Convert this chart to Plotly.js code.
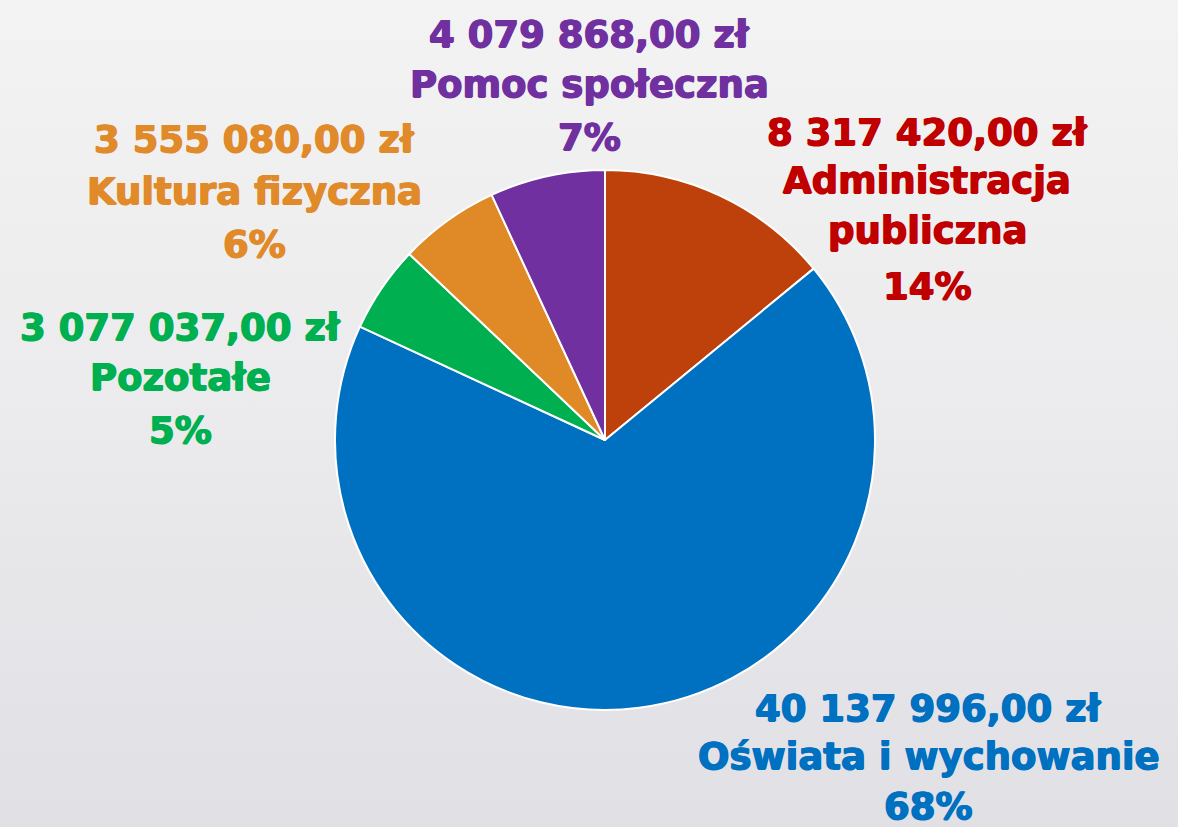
<!DOCTYPE html>
<html>
<head>
<meta charset="utf-8">
<script src="https://cdn.plot.ly/plotly-3.0.1.min.js"></script>
<style>
  html, body { margin: 0; padding: 0; }
  body { width: 1178px; height: 827px; background: linear-gradient(to bottom, #f3f3f3 0%, #ebebed 50%, #e0e0e5 100%); }
  #chart { width: 1178px; height: 827px; }
</style>
</head>
<body>
<div id="chart"></div>
<script>
// ---- data ----
const categories = ["Administracja publiczna", "Oświata i wychowanie", "Pozotałe", "Kultura fizyczna", "Pomoc społeczna"];
const amounts = [8317420.00, 40137996.00, 3077037.00, 3555080.00, 4079868.00];
const sliceColors = ["#be410b", "#0070c0", "#00b050", "#df8a26", "#7030a0"];
const labelColors = ["#c00000", "#0070c0", "#00b050", "#e08a2a", "#7030a0"];

// ---- label layout (pixel centre x, line baselines, name wrapping) ----
const W = 1178, H = 827;
const labelLayout = [
  {x: 927, baselines: [145, 193, 243, 299], wrap: true},
  {x: 929, baselines: [721, 769, 819], wrap: false},
  {x: 180, baselines: [340, 390, 443], wrap: false},
  {x: 254, baselines: [153, 204, 258], wrap: false},
  {x: 589, baselines: [48, 97, 150], wrap: false}
];
const FONT_SIZE = 37;

function fmtPLN(v) {
  const parts = v.toFixed(2).split(".");
  const intPart = parts[0].replace(/\B(?=(\d{3})+(?!\d))/g, " ");
  return intPart + "," + parts[1] + " zł";
}

const total = amounts.reduce((a, b) => a + b, 0);
const annotations = [];
categories.forEach((name, i) => {
  const cfg = labelLayout[i];
  const sp = name.indexOf(" ");
  const nameLines = cfg.wrap ? [name.slice(0, sp), name.slice(sp + 1)] : [name];
  const lines = [fmtPLN(amounts[i])].concat(nameLines, [Math.round(amounts[i] / total * 100) + "%"]);
  const c = labelColors[i];
  lines.forEach((t, k) => {
    annotations.push({
      xref: "paper", yref: "paper",
      x: cfg.x / W, y: 1 - (cfg.baselines[k] - 13) / H,
      xanchor: "center", yanchor: "middle",
      text: t, showarrow: false,
      font: {family: "DejaVu Sans", size: FONT_SIZE, color: c, weight: "bold",
             shadow: "0.7px 0 0 " + c + ", -0.7px 0 0 " + c + ", 0 0.5px 0 " + c}
    });
  });
});

const cx = 605, cy = 440, r = 270;
const trace = {
  type: "pie",
  labels: categories,
  values: amounts,
  sort: false,
  direction: "clockwise",
  rotation: 0,
  textinfo: "none",
  hoverinfo: "label+value+percent",
  marker: {colors: sliceColors, line: {color: "#ffffff", width: 2}},
  domain: {x: [(cx - r) / W, (cx + r) / W], y: [1 - (cy + r) / H, 1 - (cy - r) / H]}
};

const layout = {
  width: W, height: H,
  margin: {l: 0, r: 0, t: 0, b: 0},
  paper_bgcolor: "rgba(0,0,0,0)",
  plot_bgcolor: "rgba(0,0,0,0)",
  showlegend: false,
  annotations: annotations
};

Plotly.newPlot("chart", [trace], layout, {displayModeBar: false, staticPlot: true});
</script>
</body>
</html>
